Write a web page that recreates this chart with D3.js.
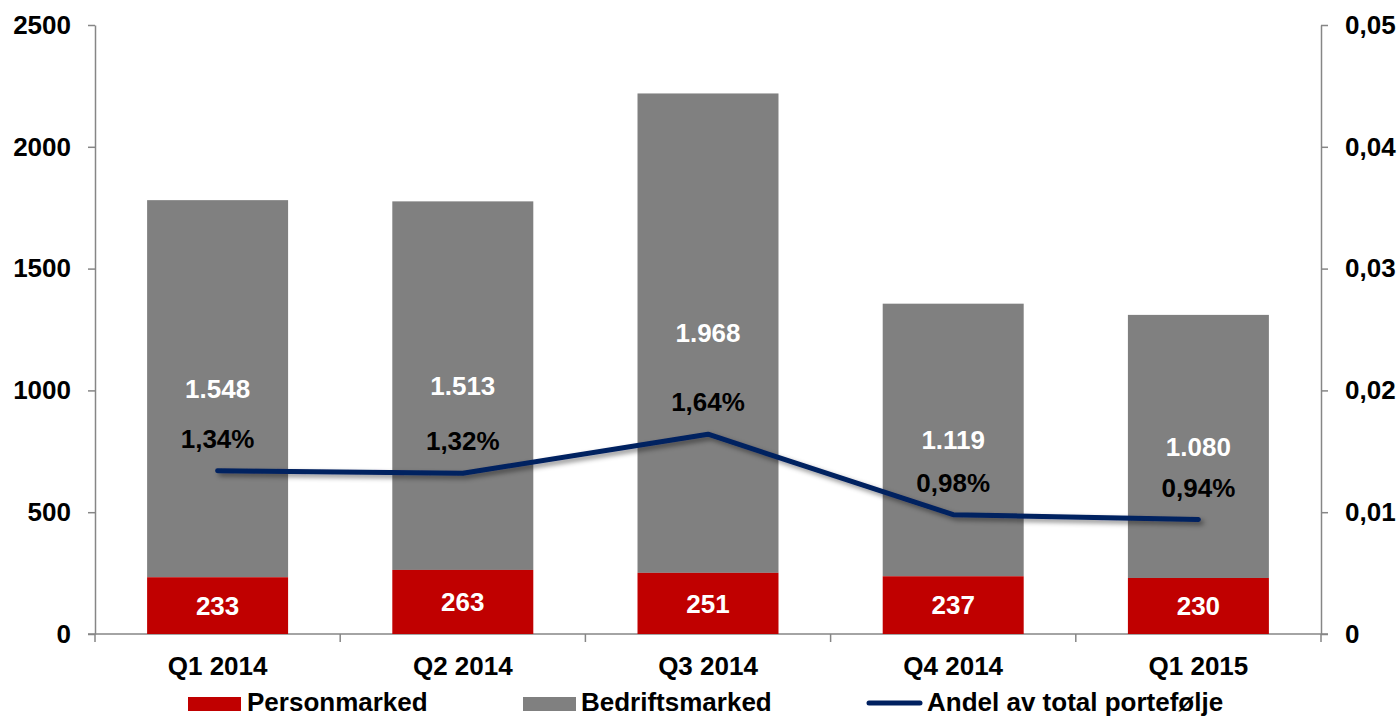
<!DOCTYPE html>
<html>
<head>
<meta charset="utf-8">
<script src="https://cdn.jsdelivr.net/npm/d3@7"></script>
<style>
  body { margin: 0; background: #fff; }
  text { font-family: "Liberation Sans", Arial, sans-serif; font-weight: bold; }
  .axis path, .axis line { stroke: #868686; stroke-width: 1.5; }
  .axis text { font-size: 26px; fill: #000; }
</style>
</head>
<body>
<div id="chart"></div>
<script>
// Misligholdte engasjementer per kvartal
var w = 1400, h = 716;
var fs = 26;

var quarters = ["Q1 2014", "Q2 2014", "Q3 2014", "Q4 2014", "Q1 2015"];
var personmarked = [233, 263, 251, 237, 230];
var bedriftsmarked = [1548, 1513, 1968, 1119, 1080];
var andel = [0.0134, 0.0132, 0.0164, 0.0098, 0.0094];
var leftTicks = [0, 500, 1000, 1500, 2000, 2500];
var rightTicks = [0, 0.01, 0.02, 0.03, 0.04, 0.05];

var colors = { person: "#c00000", bedrift: "#808080", line: "#002060" };

var svg = d3.select("#chart").append("svg")
  .attr("width", w).attr("height", h);

var defs = svg.append("defs");
var f = defs.append("filter").attr("id", "shadow")
  .attr("x", "-10%").attr("y", "-50%").attr("width", "120%").attr("height", "200%");
f.append("feDropShadow").attr("dx", 3).attr("dy", 3).attr("stdDeviation", 2.5)
  .attr("flood-color", "#000").attr("flood-opacity", 0.45);

var x = d3.scaleBand().domain(quarters).range([95, 1321]).paddingInner(0.425).paddingOuter(0.2125);
var y = d3.scaleLinear().domain([0, 2500]).range([634, 25]);
var y2 = d3.scaleLinear().domain([0, 0.05]).range([634, 25]);

// axes
svg.append("g").attr("class", "axis")
  .attr("transform", "translate(95,0)")
  .call(d3.axisLeft(y).tickValues(leftTicks).tickSize(7).tickPadding(17).tickSizeOuter(0)
    .tickFormat(d3.format("d")));

svg.append("g").attr("class", "axis")
  .attr("transform", "translate(1321,0)")
  .call(d3.axisRight(y2).tickValues(rightTicks).tickSize(7).tickPadding(17).tickSizeOuter(0)
    .tickFormat(function(d) { return d === 0 ? "0" : d3.format(".2f")(d).replace(".", ","); }));

// x axis: line plus ticks between categories
var xAxis = svg.append("g").attr("class", "axis");
xAxis.append("line").attr("x1", 88).attr("x2", 1328).attr("y1", 634).attr("y2", 634);
var step = x.step();
d3.range(quarters.length + 1).forEach(function(i) {
  var xx = 95 + i * step;
  xAxis.append("line").attr("x1", xx).attr("x2", xx).attr("y1", 634).attr("y2", 642);
});
xAxis.selectAll("text.cat").data(quarters).enter().append("text")
  .attr("class", "cat")
  .attr("x", function(d) { return x(d) + x.bandwidth() / 2; })
  .attr("y", 675)
  .attr("text-anchor", "middle")
  .text(function(d) { return d; });

// bars
var bars = svg.append("g");
quarters.forEach(function(q, i) {
  var p = personmarked[i], b = bedriftsmarked[i];
  bars.append("rect").attr("x", x(q)).attr("width", x.bandwidth())
    .attr("y", y(p + b)).attr("height", y(p) - y(p + b)).attr("fill", colors.bedrift);
  bars.append("rect").attr("x", x(q)).attr("width", x.bandwidth())
    .attr("y", y(p)).attr("height", y(0) - y(p)).attr("fill", colors.person);

  bars.append("text").attr("x", x(q) + x.bandwidth() / 2)
    .attr("y", (y(p) + y(0)) / 2).attr("dy", "0.35em")
    .attr("text-anchor", "middle").attr("fill", "#fff").attr("font-size", fs)
    .text(p);
  bars.append("text").attr("x", x(q) + x.bandwidth() / 2)
    .attr("y", (y(p + b) + y(p)) / 2).attr("dy", "0.35em")
    .attr("text-anchor", "middle").attr("fill", "#fff").attr("font-size", fs)
    .text(d3.format(",")(b).replace(",", "."));
});

// line
var line = d3.line()
  .x(function(d, i) { return x(quarters[i]) + x.bandwidth() / 2; })
  .y(function(d) { return y2(d); });

svg.append("path").datum(andel)
  .attr("d", line)
  .attr("fill", "none")
  .attr("stroke", colors.line)
  .attr("stroke-width", 5)
  .attr("stroke-linecap", "round")
  .attr("stroke-linejoin", "round")
  .attr("filter", "url(#shadow)");

svg.append("g").selectAll("text").data(andel).enter().append("text")
  .attr("x", function(d, i) { return x(quarters[i]) + x.bandwidth() / 2; })
  .attr("y", function(d) { return y2(d) - 32; })
  .attr("dy", "0.35em")
  .attr("text-anchor", "middle").attr("font-size", fs).attr("fill", "#000")
  .text(function(d) { return d3.format(".2%")(d).replace(".", ","); });

// legend
var legend = svg.append("g");
legend.append("rect").attr("x", 188).attr("y", 697).attr("width", 53).attr("height", 14).attr("fill", colors.person);
legend.append("text").attr("x", 247).attr("y", 711).attr("font-size", fs).text("Personmarked");
legend.append("rect").attr("x", 523).attr("y", 697).attr("width", 53).attr("height", 14).attr("fill", colors.bedrift);
legend.append("text").attr("x", 581).attr("y", 711).attr("font-size", fs).text("Bedriftsmarked");
legend.append("line").attr("x1", 869).attr("x2", 920).attr("y1", 703).attr("y2", 703)
  .attr("stroke", colors.line).attr("stroke-width", 5).attr("stroke-linecap", "round");
legend.append("text").attr("x", 927).attr("y", 711).attr("font-size", fs).text("Andel av total portefølje");
</script>
</body>
</html>
